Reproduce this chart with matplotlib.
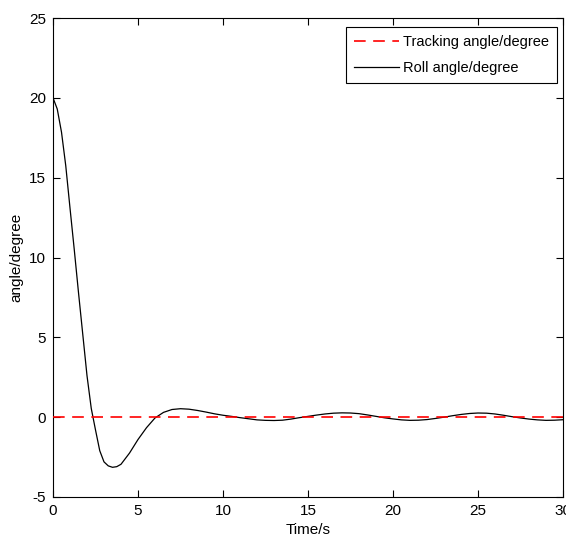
"""
Roll angle response vs tracking angle (MATLAB-style figure).
"""

import matplotlib
matplotlib.use("Agg")
import matplotlib.pyplot as plt

# Time axis (s) and roll angle (degrees)
TIME_S = [
    0.0, 0.25, 0.5, 0.75, 1.0, 1.25, 1.5, 1.75, 2.0, 2.25,
    2.5, 2.75, 3.0, 3.25, 3.5, 3.75, 4.0, 4.5, 5.0, 5.5,
    6.0, 6.5, 7.0, 7.5, 8.0, 8.5, 9.0, 9.5, 10.0, 10.5,
    11.0, 11.5, 12.0, 12.5, 13.0, 13.5, 14.0, 14.5, 15.0, 15.5,
    16.0, 16.5, 17.0, 17.5, 18.0, 18.5, 19.0, 19.5, 20.0, 20.5,
    21.0, 21.5, 22.0, 22.5, 23.0, 23.5, 24.0, 24.5, 25.0, 25.5,
    26.0, 26.5, 27.0, 27.5, 28.0, 28.5, 29.0, 29.5, 30.0,
]
ROLL_DEG = [
    20.0, 19.3, 17.85, 15.75, 13.1, 10.5, 7.8, 5.2, 2.6, 0.55,
    -0.8, -2.1, -2.8, -3.05, -3.14, -3.1, -2.95, -2.25, -1.4, -0.66,
    -0.05, 0.3, 0.48, 0.53, 0.5, 0.42, 0.32, 0.21, 0.12, 0.05,
    -0.03, -0.1, -0.17, -0.2, -0.21, -0.19, -0.12, -0.03, 0.05, 0.13,
    0.2, 0.25, 0.27, 0.26, 0.22, 0.14, 0.05, -0.04, -0.11, -0.17,
    -0.2, -0.19, -0.15, -0.08, 0.0, 0.09, 0.17, 0.23, 0.26, 0.25,
    0.2, 0.12, 0.03, -0.05, -0.12, -0.17, -0.2, -0.19, -0.16,
]
TRACK_TIME = [0.0, 30.0]
TRACK_DEG = [0.0, 0.0]

X_TICKS = [0, 5, 10, 15, 20, 25, 30]
Y_TICKS = [-5, 0, 5, 10, 15, 20, 25]

FONT = 11


def main():
    plt.rcParams["font.family"] = ["Liberation Sans", "DejaVu Sans"]
    plt.rcParams["axes.unicode_minus"] = False

    fig = plt.figure(figsize=(5.66, 5.48), dpi=100)
    ax = fig.add_axes([53 / 566, 1 - 497 / 548, 510 / 566, 479 / 548])

    ax.plot(TRACK_TIME, TRACK_DEG, color="#ff0000", linewidth=1.2,
            dashes=(7, 4.5), label="Tracking angle/degree", zorder=3)
    ax.plot(TIME_S, ROLL_DEG, color="black", linewidth=0.9,
            label="Roll angle/degree", zorder=2)

    ax.set_xlim(0, 30)
    ax.set_ylim(-5, 25)
    ax.set_xticks(X_TICKS)
    ax.set_yticks(Y_TICKS)
    ax.tick_params(direction="in", length=5, width=0.8, labelsize=FONT,
                   top=True, right=True, pad=5)
    for spine in ax.spines.values():
        spine.set_linewidth(0.8)

    ax.set_xlabel("Time/s", fontsize=FONT, labelpad=4)
    ax.set_ylabel("angle/degree", fontsize=FONT, labelpad=4)

    leg = ax.legend(loc="upper right", bbox_to_anchor=(0.988, 0.981),
                    fontsize=FONT - 0.5, fancybox=False, framealpha=1,
                    edgecolor="black", handlelength=3.1, handletextpad=0.25,
                    labelspacing=0.8, borderpad=0.55, borderaxespad=0)
    leg.get_frame().set_linewidth(0.8)

    fig.savefig("out.png", dpi=100)
    plt.close(fig)


if __name__ == "__main__":
    main()
